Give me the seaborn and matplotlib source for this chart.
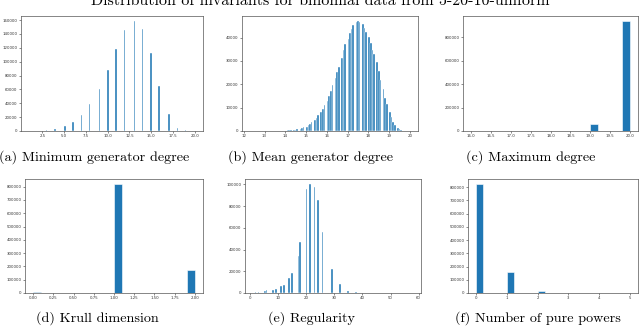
import numpy as np
import matplotlib
matplotlib.use("Agg")
import matplotlib.pyplot as plt
from matplotlib.ticker import MultipleLocator, FormatStrFormatter
import seaborn as sns

# ---------------- data ----------------
title = "Distribution of invariants for binomial data from 5-20-10-uniform"
captions = ["(a) Minimum generator degree", "(b) Mean generator degree",
            "(c) Maximum degree", "(d) Krull dimension",
            "(e) Regularity", "(f) Number of pure powers"]

min_deg_vals = [1, 2, 3, 4, 5, 6, 7, 8, 9, 10, 11, 12, 13, 14, 15, 16, 17, 18, 19, 20]
min_deg_counts = [50, 300, 1500, 3000, 6500, 12500, 23000, 39000, 61000, 88000,
                  118000, 145500, 158000, 147000, 112000, 65000, 25000, 5000, 1000, 200]

mean_deg_vals = [12.3, 12.6, 13.0, 13.3, 13.6, 13.8, 14.0, 14.1, 14.2, 14.3, 14.4,
                 14.5, 14.6, 14.7, 14.8, 14.9, 15.0, 15.1, 15.2, 15.3, 15.4, 15.5,
                 15.6, 15.7, 15.8, 15.9, 16.0, 16.1, 16.2, 16.3, 16.4, 16.5, 16.6,
                 16.7, 16.8, 16.9, 17.0, 17.1, 17.2, 17.3, 17.4, 17.5, 17.6, 17.7,
                 17.8, 17.9, 18.0, 18.1, 18.2, 18.3, 18.4, 18.5, 18.6, 18.7, 18.8,
                 18.9, 19.0, 19.1, 19.2, 19.3, 19.4, 19.5, 19.6, 19.7, 19.8, 19.9, 20.0]
mean_deg_counts = [5, 10, 20, 40, 70, 110, 200, 250, 320, 400, 500,
                   600, 850, 1000, 1300, 1600, 1900, 2400, 3000, 3700, 4600, 5400,
                   6700, 8100, 9600, 11300, 13000, 15000, 17300, 19700, 22600, 25400, 27600,
                   31400, 34700, 37100, 39400, 41900, 43700, 45600, 46600, 46900, 46600, 45700,
                   44300, 42300, 40100, 37600, 34700, 32900, 29700, 25700, 21900, 17900, 14000,
                   11400, 8300, 5900, 4000, 2600, 1400, 700, 300, 150, 100, 50, 20]

max_deg_vals = [16, 17, 18, 19, 20]
max_deg_counts = [50, 300, 3500, 60000, 937000]

krull_vals = [0, 1, 2]
krull_counts = [7500, 817000, 175500]

reg_vals = [1, 2, 3, 5, 6, 8, 9, 11, 12, 14, 15, 17, 18, 20, 21, 23, 24, 26, 29,
            32, 35, 38, 40, 41, 44, 47, 50, 53, 58]
reg_counts = [100, 600, 1000, 1500, 2800, 3200, 3800, 6000, 7200, 13500, 18000,
              33800, 46700, 96000, 100000, 98000, 86000, 55800, 22400,
              7900, 2200, 600, 200, 150, 50, 20, 10, 5, 2]

pure_vals = [0, 1, 2, 3, 4, 5]
pure_counts = [820000, 158000, 15500, 1300, 150, 50]

panels = [
    (min_deg_vals, min_deg_counts, 100, 2.5, "%.1f", 20000),
    (mean_deg_vals, mean_deg_counts, 100, 1, "%d", 10000),
    (max_deg_vals, max_deg_counts, 20, 0.5, "%.1f", 200000),
    (krull_vals, krull_counts, 20, 0.25, "%.2f", 100000),
    (reg_vals, reg_counts, 100, 10, "%d", 20000),
    (pure_vals, pure_counts, 20, 1, "%d", 100000),
]

# ---------------- layout (pixels) ----------------
W, H = 640, 330
boxes = [(21, 16, 203, 131), (242, 16, 418, 131), (463, 16, 638, 131),
         (25, 179, 203, 293), (245, 179, 421, 293), (468, 179, 638, 293)]
cap_pos = [(94, 161), (311, 161), (531, 161), (97, 322), (311, 322), (538, 322)]

fig = plt.figure(figsize=(W / 100, H / 100), dpi=100)
blue = "#1f77b4"

for i, ((vals, counts, nb, xstep, xfmt, ystep), box) in enumerate(zip(panels, boxes)):
    l, t, r, b = box
    ax = fig.add_axes([l / W, 1 - b / H, (r - l) / W, (b - t) / H])
    thin = nb == 100
    sns.histplot(x=vals, weights=counts, bins=nb, ax=ax, color=blue, alpha=1,
                 edgecolor="white", linewidth=0.3 if thin else 0.4)
    ax.set_ylabel("")
    ax.set_xlabel("")
    ax.xaxis.set_major_locator(MultipleLocator(xstep))
    ax.xaxis.set_major_formatter(FormatStrFormatter(xfmt))
    ax.yaxis.set_major_locator(MultipleLocator(ystep))
    ax.yaxis.set_major_formatter(FormatStrFormatter("%d"))
    ax.tick_params(labelsize=2.8, length=1.5, width=0.4, pad=1, colors="#333333")
    for s in ax.spines.values():
        s.set_linewidth(0.5)
        s.set_color("#555555")
    cx, cy = cap_pos[i]
    fig.text(cx / W, 1 - cy / H, captions[i], ha="center", va="baseline",
             fontsize=10.2, family=["cmr10", "DejaVu Serif"])

fig.text(0.5, 1 - 5 / H, title, ha="center", va="baseline", fontsize=11.5,
         family=["cmr10", "DejaVu Serif"])

fig.savefig("out.png", dpi=100)
